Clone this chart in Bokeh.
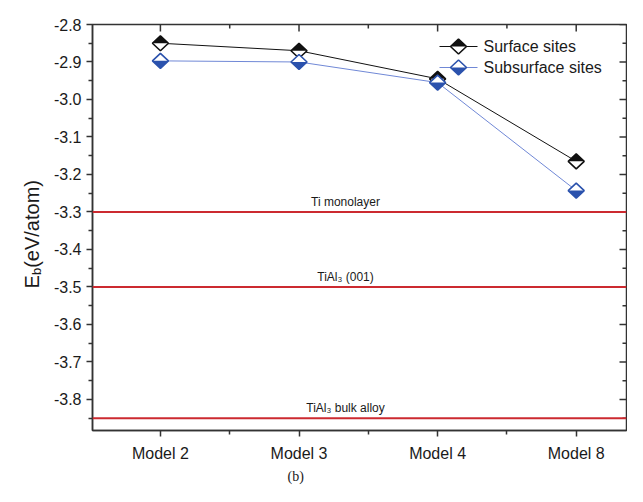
from bokeh.plotting import figure
from bokeh.layouts import row
from bokeh.models import Range1d, FixedTicker, NumeralTickFormatter, Span, Label, Title, Div
from bokeh.embed import file_html
from bokeh.resources import INLINE

# ---------------- data ----------------
MODELS = ["Model 2", "Model 3", "Model 4", "Model 8"]
SURFACE = [-2.850, -2.870, -2.945, -3.165]
SUBSURFACE = [-2.897, -2.900, -2.955, -3.243]
SERIES_NAMES = ["Surface sites", "Subsurface sites"]
REF_NAMES = ["Ti monolayer", "TiAl\u2083 (001)", "TiAl\u2083 bulk alloy"]
REF_VALUES = [-3.30, -3.50, -3.85]
Y_TICKS = [-3.8, -3.7, -3.6, -3.5, -3.4, -3.3, -3.2, -3.1, -3.0, -2.9, -2.8]

# ---------------- layout ----------------
LABEL_W = 50            # width of the strip holding the rotated y label
LEFT, TOP = 42, 24      # plot borders (frame starts at LABEL_W + LEFT = 92)
FRAME_W, FRAME_H = 534, 406
HEIGHT = 486
X_START = 0.51
Y_START, Y_END = -3.883, -2.8
PX_X = 138.6
X_END = X_START + FRAME_W / PX_X
PX_Y = FRAME_H / (Y_END - Y_START)
FONT = "Liberation Sans"
TXT = "#1a1a1a"
AX = "#333333"
BLACK = "#111111"
BLUE = "#2b52ad"
BLUE_LINE = "#7088d6"
RED = "#cc2a30"


def fx(px):  # frame-relative px -> data x
    return X_START + px / PX_X


def fy(py):  # frame-relative px (from top) -> data y
    return Y_END - py / PX_Y


p = figure(width=LEFT + FRAME_W + 1, height=HEIGHT,
           x_range=Range1d(X_START, X_END), y_range=Range1d(Y_START, Y_END),
           output_backend="svg", toolbar_location=None,
           min_border_left=LEFT, min_border_right=1, min_border_top=TOP,
           min_border_bottom=HEIGHT - TOP - FRAME_H)
p.xgrid.visible = False
p.ygrid.visible = False
p.outline_line_color = AX
p.outline_line_width = 1.5
p.background_fill_color = "white"
p.border_fill_color = "white"

xpos = [i + 1 for i in range(len(MODELS))]
xminor = [t + 0.5 for t in xpos]
yminor = [round(t - 0.05, 3) for t in Y_TICKS]


def style_axis(ax):
    ax.axis_line_color = AX
    ax.axis_line_width = 1.5
    ax.major_tick_line_color = AX
    ax.minor_tick_line_color = AX
    ax.major_tick_line_width = 1.5
    ax.minor_tick_line_width = 1.5
    ax.major_tick_in, ax.major_tick_out = 0, 6
    ax.minor_tick_in, ax.minor_tick_out = 0, 4
    ax.major_label_text_font = FONT
    ax.major_label_text_color = TXT


xb = p.xaxis[0]
xb.ticker = FixedTicker(ticks=xpos, minor_ticks=xminor)
xb.major_label_overrides = {t: m for t, m in zip(xpos, MODELS)}
style_axis(xb)
xb.major_label_text_font_size = "16px"
xb.major_label_standoff = 8

yl = p.yaxis[0]
yl.ticker = FixedTicker(ticks=Y_TICKS, minor_ticks=yminor)
yl.formatter = NumeralTickFormatter(format="0.0")
style_axis(yl)
yl.major_label_text_font_size = "16px"
yl.major_label_standoff = 5

# inward ticks on the top and right frame edges (mirror of the axis ticks)
p.segment(x0=xpos, y0=[Y_END] * len(xpos), x1=xpos, y1=[Y_END - 7 / PX_Y] * len(xpos),
          line_color=AX, line_width=1.5)
p.segment(x0=xminor, y0=[Y_END] * len(xminor), x1=xminor,
          y1=[Y_END - 4 / PX_Y] * len(xminor), line_color=AX, line_width=1.5)
p.segment(x0=[X_END] * len(Y_TICKS), y0=Y_TICKS, x1=[X_END - 7 / PX_X] * len(Y_TICKS),
          y1=Y_TICKS, line_color=AX, line_width=1.5)
p.segment(x0=[X_END] * len(yminor), y0=yminor, x1=[X_END - 4 / PX_X] * len(yminor),
          y1=yminor, line_color=AX, line_width=1.5)

# reference lines
for name, v in zip(REF_NAMES, REF_VALUES):
    p.add_layout(Span(location=v, dimension="width", line_color=RED, line_width=2))
    p.add_layout(Label(x=fx(253), y=v, y_offset=10, text=name, text_align="center",
                       text_baseline="alphabetic", text_font=FONT,
                       text_font_size="12px", text_color=TXT))


def diamond_shapes(xs, ys, hx=8.0, hy=7.5):
    dx, dy = hx / PX_X, hy / PX_Y
    full_x = [[x - dx, x, x + dx, x] for x in xs]
    full_y = [[y, y + dy, y, y - dy] for y in ys]
    top_x = [[x - dx, x, x + dx] for x in xs]
    top_y = [[y, y + dy, y] for y in ys]
    bot_x = [[x - dx, x + dx, x] for x in xs]
    bot_y = [[y, y, y - dy] for y in ys]
    return full_x, full_y, top_x, top_y, bot_x, bot_y


def draw_markers(xs, ys, color, half):
    full_x, full_y, top_x, top_y, bot_x, bot_y = diamond_shapes(xs, ys)
    p.patches(full_x, full_y, fill_color="white", line_color=None)
    if half == "top":
        p.patches(top_x, top_y, fill_color=color, line_color=None)
    else:
        p.patches(bot_x, bot_y, fill_color=color, line_color=None)
    p.patches(full_x, full_y, fill_color=None, line_color=color, line_width=1.6)


# series lines + markers
p.line(xpos, SURFACE, line_color=BLACK, line_width=1)
p.line(xpos, SUBSURFACE, line_color=BLUE_LINE, line_width=1)
draw_markers(xpos, SURFACE, BLACK, "top")
draw_markers(xpos, SUBSURFACE, BLUE, "bottom")

# legend (manual, to reproduce half-filled diamonds)
LEG_ROWS = [22, 43]
for name, color, lcolor, half, row_y in zip(SERIES_NAMES, [BLACK, BLUE], [BLACK, BLUE_LINE],
                                            ["top", "bottom"], LEG_ROWS):
    p.line([fx(347), fx(385)], [fy(row_y), fy(row_y)], line_color=lcolor, line_width=1)
    draw_markers([fx(366)], [fy(row_y)], color, half)
    p.add_layout(Label(x=fx(391), y=fy(row_y), text=name, text_align="left",
                       text_baseline="middle", text_font=FONT, text_font_size="16px",
                       text_color=TXT))

# caption
p.add_layout(Title(text="(b)", align="left", offset=195, standoff=4,
                   text_font="Liberation Serif", text_font_size="14px",
                   text_font_style="normal", text_color=TXT), "below")

# rotated y-axis label with a real subscript
ylabel_html = (
    '<div style="writing-mode: vertical-rl; transform: rotate(180deg); '
    'position: relative; left: 20px; top: 180px; width: 24px; '
    "font-family: 'Liberation Sans', Arial, sans-serif; font-size: 20px; "
    'line-height: 24px; color: #1a1a1a; white-space: nowrap;">'
    'E<sub style="font-size: 13px;">b</sub>(eV/atom)</div>'
)
ylabel = Div(text=ylabel_html, width=LABEL_W, height=HEIGHT,
             styles={"margin": "0", "padding": "0"})

layout = row(ylabel, p, spacing=0)
open("out.html", "w").write(file_html(layout, INLINE))
